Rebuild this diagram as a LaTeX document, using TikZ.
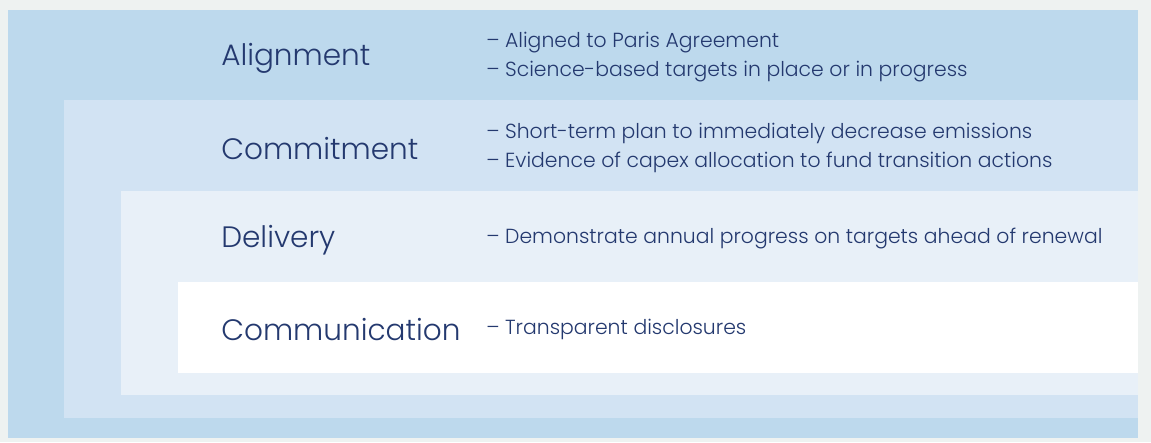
\documentclass[tikz,border=0pt]{standalone}
\usepackage{fontspec}
\setmainfont{Poppins}[UprightFont=*-Light, Ligatures=NoCommon]
\usetikzlibrary{positioning}
\definecolor{frameGrey}{HTML}{EEF2F1}
\definecolor{layerOne}{HTML}{BDD9ED}
\definecolor{layerTwo}{HTML}{D2E3F3}
\definecolor{layerThree}{HTML}{E8F0F8}
\definecolor{inkNavy}{HTML}{24396F}

\begin{document}
\begin{tikzpicture}[x=0.025cm, y=-0.025cm,
  level/.style={anchor=west, inner sep=0pt, text=inkNavy, font=\fontsize{21}{25}\selectfont},
  points/.style={anchor=west, inner sep=0pt, text=inkNavy, align=left,
    font=\fontsize{14.5}{20}\selectfont}
]
% page and nested layers
\fill[frameGrey] (0,0) rectangle (1151,442);
\fill[layerOne] (8,10) rectangle (1138,438);
\fill[layerTwo] (64,100) rectangle (1138,418);
\fill[layerThree] (121,191) rectangle (1138,395);
\fill[white] (178,282) rectangle (1138,373);

% level names
\node[level] (align) at (221,58) {Alignment};
\node[level] (commit) at (221,149) {Commitment};
\node[level] (deliver) at (221,240) {Delivery};
\node[level] (comms) at (221,330) {Communication};

% what each level asks for
\node[points] (alignpts) at (486,57) {-- Aligned to Paris Agreement\\-- Science-based targets in place or in progress};
\node[points] (commitpts) at (486,148) {-- Short-term plan to immediately decrease emissions\\-- Evidence of capex allocation to fund transition actions};
\node[points] (deliverpts) at (486,239) {-- Demonstrate annual progress on targets ahead of renewal};
\node[points] (commspts) at (486,329) {-- Transparent disclosures};
\end{tikzpicture}
\end{document}
